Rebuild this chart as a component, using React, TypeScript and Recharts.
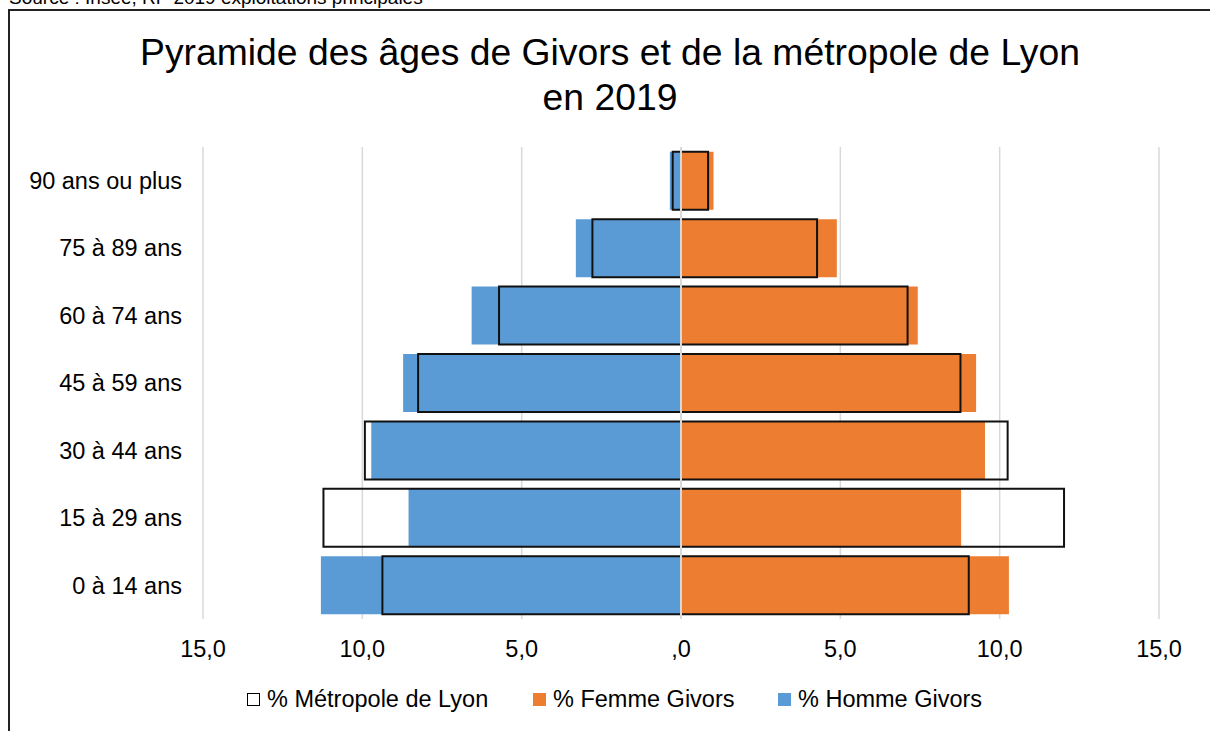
import React from 'react';
import { BarChart, Bar, XAxis, YAxis, CartesianGrid, ReferenceLine } from 'recharts';

// Pyramide des âges, Givors vs métropole de Lyon (2019), en % de la population
const ageGroups = ['0 à 14 ans', '15 à 29 ans', '30 à 44 ans', '45 à 59 ans', '60 à 74 ans', '75 à 89 ans', '90 ans ou plus'];
const hommeGivors = [11.3, 8.55, 9.72, 8.72, 6.57, 3.3, 0.35];
const femmeGivors = [10.29, 8.79, 9.54, 9.26, 7.43, 4.89, 1.02];
const hommeLyon = [9.37, 11.22, 9.92, 8.25, 5.71, 2.78, 0.26];
const femmeLyon = [9.03, 12.02, 10.25, 8.77, 7.11, 4.27, 0.85];
const xTicks = [-15, -10, -5, 0, 5, 10, 15];

const data = ageGroups.map((age, i) => ({
    age,
    hommeGivors: -hommeGivors[i],
    femmeGivors: femmeGivors[i],
    hommeLyon: -hommeLyon[i],
    femmeLyon: femmeLyon[i],
}));

const FONT = '"Liberation Sans", Arial, sans-serif';
const BLUE = '#5B9BD5';
const ORANGE = '#ED7D31';

const fmtTick = (v: number) => (v === 0 ? ',0' : Math.abs(v).toFixed(1).replace('.', ','));

const LegendItem: React.FC<{ left: number; color: string; label: string; outline?: boolean }> = ({ left, color, label, outline }) => (
    <div style={{ position: 'absolute', left, top: 685, height: 28, display: 'flex', alignItems: 'center', whiteSpace: 'nowrap' }}>
        <span style={{
            display: 'inline-block',
            boxSizing: 'border-box',
            width: 13,
            height: 13,
            background: color,
            border: outline ? '1.5px solid #000' : 'none',
            marginRight: 7
        }} />
        <span style={{ fontSize: 23.5, lineHeight: '28px', color: '#000' }}>{label}</span>
    </div>
);

const App: React.FC = () => {
    return (
        <div style={{ position: 'absolute', top: 0, left: 0, width: 1210, height: 731, overflow: 'hidden', background: '#fff', fontFamily: FONT }}>
            <div style={{ position: 'absolute', left: 9, top: -12.5, fontSize: 19, lineHeight: '20px', color: '#000', whiteSpace: 'nowrap' }}>
                Source : Insee, RP 2019 exploitations principales
            </div>
            <div style={{ position: 'absolute', left: 8, top: 9, width: 1300, height: 800, border: '2px solid #222' }} />
            <div style={{ position: 'absolute', left: 0, top: 30, width: 1220, textAlign: 'center', fontSize: 37.3, lineHeight: '45px', color: '#000' }}>
                Pyramide des âges de Givors et de la métropole de Lyon<br />en 2019
            </div>
            <div style={{ position: 'absolute', left: 0, top: 0 }}>
                <BarChart
                    width={1210}
                    height={731}
                    data={data}
                    layout="vertical"
                    stackOffset="sign"
                    barCategoryGap="7%"
                    margin={{ top: 147, right: 51, bottom: 72, left: 20 }}
                >
                    <CartesianGrid horizontal={false} stroke="#d9d9d9" strokeWidth={1.5} />
                    <XAxis
                        type="number"
                        domain={[-15, 15]}
                        ticks={xTicks}
                        tickFormatter={fmtTick}
                        axisLine={false}
                        tickLine={false}
                        tickSize={0}
                        tickMargin={21}
                        height={40}
                        tick={{ fill: '#000', fontSize: 23.5, fontFamily: FONT }}
                    />
                    <YAxis
                        yAxisId="g"
                        type="category"
                        dataKey="age"
                        reversed
                        width={183}
                        axisLine={false}
                        tickLine={false}
                        tickSize={0}
                        tickMargin={21}
                        tick={{ fill: '#000', fontSize: 23.5, fontFamily: FONT }}
                    />
                    <YAxis yAxisId="l" type="category" dataKey="age" reversed hide />
                    <Bar yAxisId="g" dataKey="hommeGivors" stackId="givors" fill={BLUE} isAnimationActive={false} />
                    <Bar yAxisId="g" dataKey="femmeGivors" stackId="givors" fill={ORANGE} isAnimationActive={false} />
                    <Bar yAxisId="l" dataKey="hommeLyon" stackId="lyon" fill="none" stroke="#111" strokeWidth={2} isAnimationActive={false} />
                    <Bar yAxisId="l" dataKey="femmeLyon" stackId="lyon" fill="none" stroke="#111" strokeWidth={2} isAnimationActive={false} />
                    <ReferenceLine yAxisId="g" x={0} stroke="#d9d9d9" strokeWidth={2} />
                </BarChart>
            </div>
            <LegendItem left={247} color="#fff" label="% Métropole de Lyon" outline />
            <LegendItem left={533} color={ORANGE} label="% Femme Givors" />
            <LegendItem left={778} color={BLUE} label="% Homme Givors" />
        </div>
    );
};

export default App;
